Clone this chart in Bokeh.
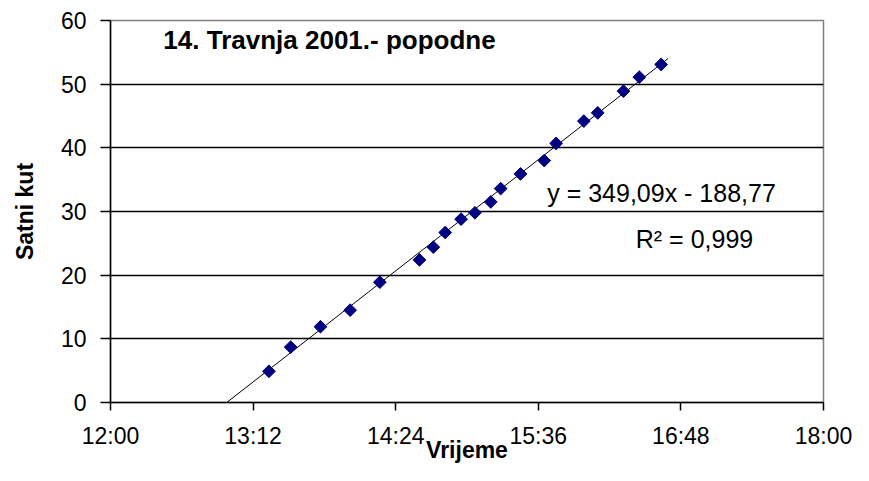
import numpy as np
from bokeh.plotting import figure
from bokeh.models import Range1d, FixedTicker, CustomJSTickFormatter, Label
from bokeh.embed import file_html
from bokeh.resources import INLINE

# ---- data ----
times = ["13:20", "13:31", "13:46", "14:01", "14:16", "14:36", "14:43", "14:49",
         "14:57", "15:04", "15:12", "15:17", "15:27", "15:39", "15:45", "15:59",
         "16:06", "16:19", "16:27", "16:38"]
satni_kut = [4.9, 8.7, 11.9, 14.5, 18.9, 22.4, 24.4, 26.7, 28.8, 29.8,
             31.5, 33.6, 35.9, 38.0, 40.7, 44.2, 45.5, 48.9, 51.1, 53.1]
slope = 349.09
intercept = -188.77
forecast_days = 0.0025
x_tick_labels = ["12:00", "13:12", "14:24", "15:36", "16:48", "18:00"]
y_ticks = [0, 10, 20, 30, 40, 50, 60]
grid_levels = [10, 20, 30, 40, 50]
title_text = "14. Travnja 2001.- popodne"
eq_text = "y = 349,09x - 188,77"
r2_text = "R\u00b2 = 0,999"
x_label = "Vrijeme"
y_label = "Satni kut"


def to_day_fraction(t):
    h, m = t.split(":")
    return (int(h) * 60 + int(m)) / 1440.0


x = [to_day_fraction(t) for t in times]
x_ticks = [to_day_fraction(t) for t in x_tick_labels]

trend_x = [-intercept / slope, max(x) + forecast_days]
trend_y = [slope * v + intercept for v in trend_x]

FONT = "Liberation Sans"

p = figure(width=853, height=465, output_backend="svg", toolbar_location=None,
           x_range=Range1d(x_ticks[0], x_ticks[-1]), y_range=Range1d(0, 60),
           min_border_left=110, min_border_right=30, min_border_top=20, min_border_bottom=62)
p.background_fill_color = "white"
p.border_fill_color = "white"
p.outline_line_color = "#808080"
p.outline_line_width = 1.5

# axes
p.xaxis.ticker = FixedTicker(ticks=x_ticks, minor_ticks=[])
p.xaxis.formatter = CustomJSTickFormatter(code="""
const m = Math.round(tick * 1440);
const h = Math.floor(m / 60);
const mm = m % 60;
return h + ':' + (mm < 10 ? '0' : '') + mm;
""")
p.yaxis.ticker = FixedTicker(ticks=y_ticks, minor_ticks=[])
for ax in (p.xaxis[0], p.yaxis[0]):
    ax.axis_line_color = "black"
    ax.axis_line_width = 1.5
    ax.major_tick_line_color = "black"
    ax.major_tick_line_width = 1.5
    ax.major_tick_in = 0
    ax.major_label_text_font = FONT
    ax.major_label_text_font_size = "23px"
    ax.major_label_text_color = "#000000"
    ax.minor_tick_line_color = None
    ax.axis_label_text_font = FONT
    ax.axis_label_text_font_style = "bold"
    ax.axis_label_text_color = "#000000"
p.xaxis.major_tick_out = 8
p.xaxis.major_label_standoff = 12
p.xaxis.axis_label = x_label
p.xaxis.axis_label_text_font_size = "23px"
p.xaxis.axis_label_standoff = -15
p.yaxis.major_tick_out = 10
p.yaxis.major_label_standoff = 14
p.yaxis.axis_label = y_label
p.yaxis.axis_label_text_font_size = "23px"
p.yaxis.axis_label_standoff = 20

p.xgrid.grid_line_color = None
p.ygrid.ticker = FixedTicker(ticks=grid_levels, minor_ticks=[])
p.ygrid.grid_line_color = "black"
p.ygrid.grid_line_width = 1.5

# trendline and points
p.line(trend_x, trend_y, line_color="#000000", line_width=1)
p.scatter(x, satni_kut, marker="square", angle=np.pi / 4, size=9,
          fill_color="#000080", line_color="#000080")

# texts inside the plot area
p.add_layout(Label(x=219, y=363, x_units="screen", y_units="screen", text=title_text,
                   text_font=FONT, text_font_style="bold", text_font_size="26px",
                   text_align="center", text_baseline="alphabetic", text_color="black"))
p.add_layout(Label(x=551, y=210, x_units="screen", y_units="screen", text=eq_text,
                   text_font=FONT, text_font_size="25px",
                   text_align="center", text_baseline="alphabetic", text_color="black"))
p.add_layout(Label(x=584, y=164, x_units="screen", y_units="screen", text=r2_text,
                   text_font=FONT, text_font_size="25px",
                   text_align="center", text_baseline="alphabetic", text_color="black"))

open("out.html", "w").write(file_html(p, INLINE))
